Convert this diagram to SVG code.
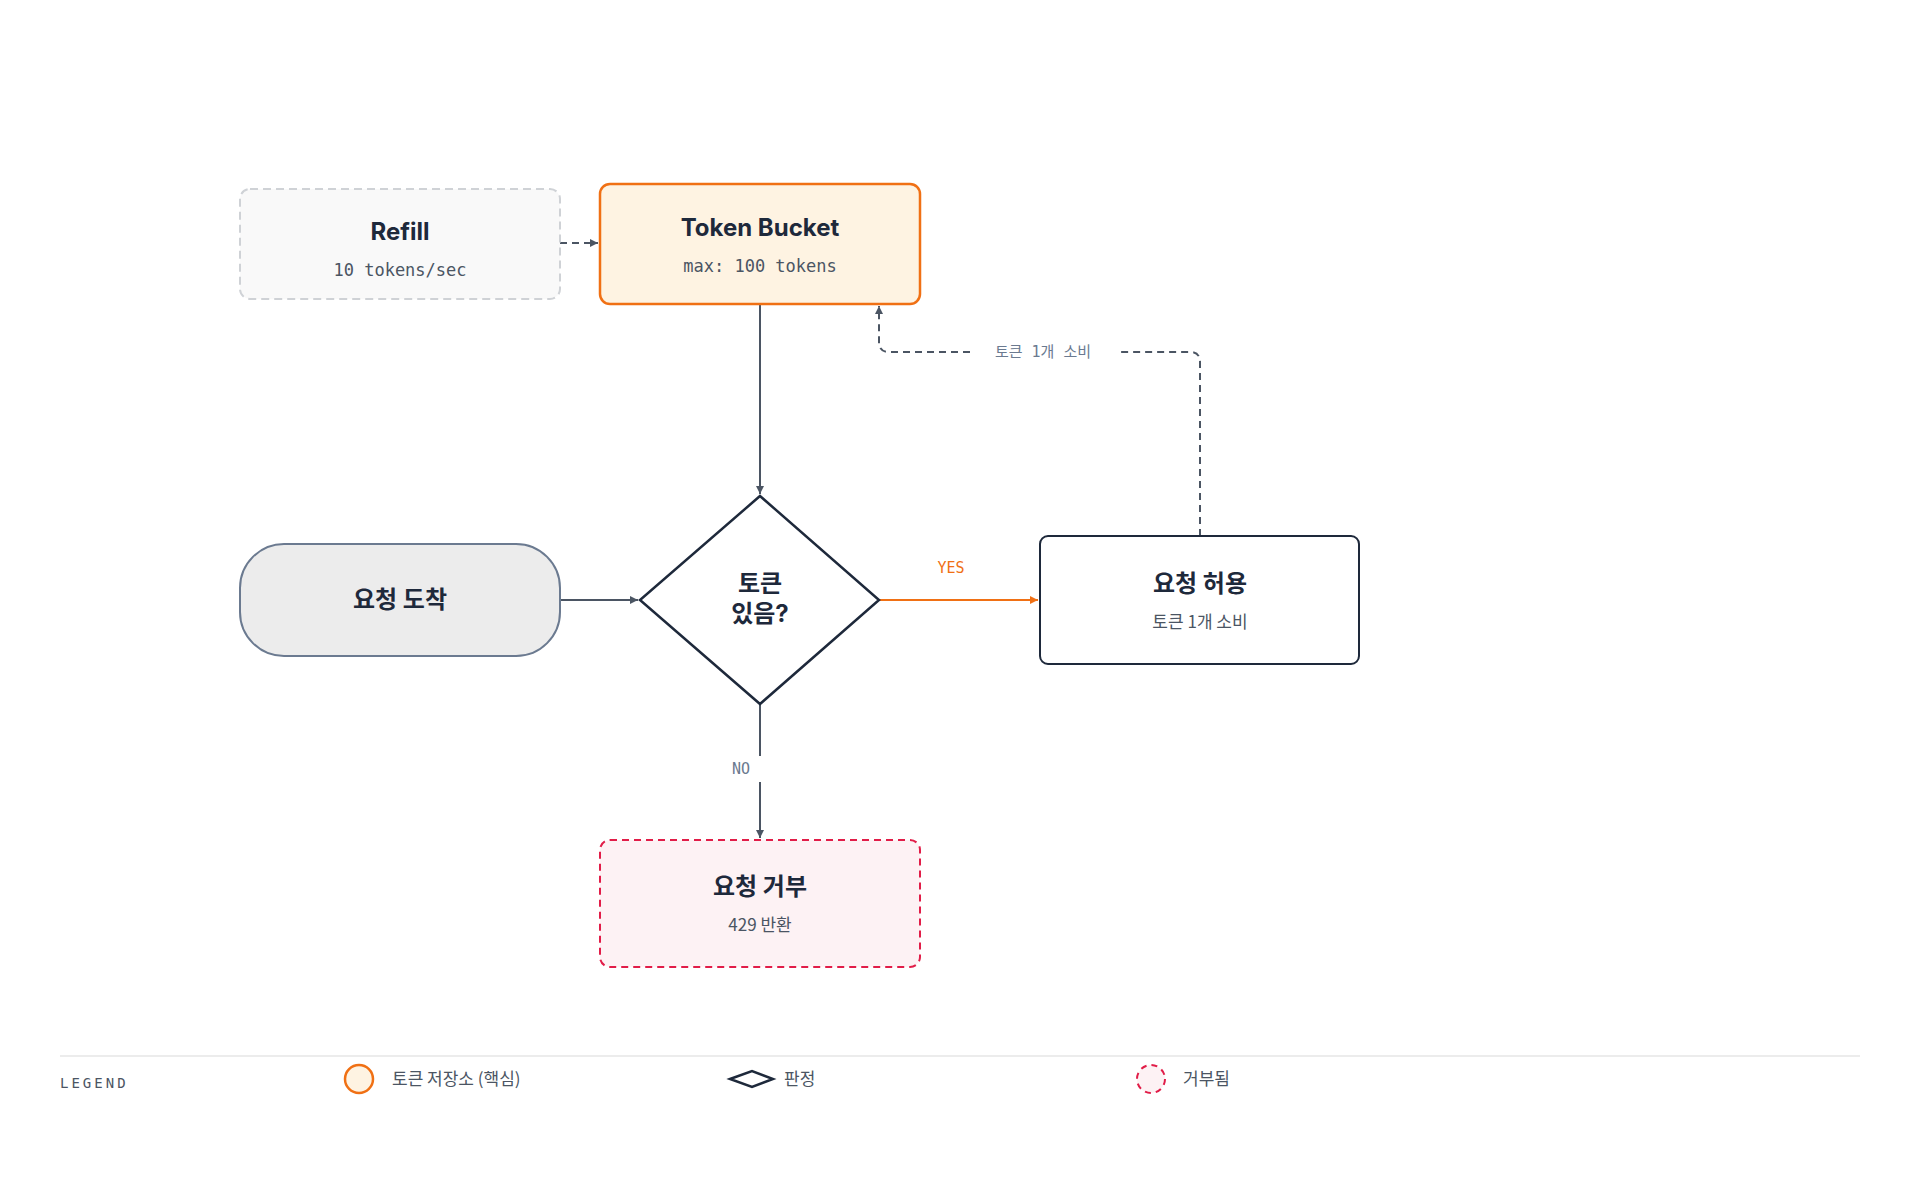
<svg xmlns="http://www.w3.org/2000/svg" width="1920" height="1200" viewBox="0 0 1920 1200">
<defs>
<marker id="ah" viewBox="0 0 10 10" refX="10" refY="5" markerWidth="8" markerHeight="8" orient="auto-start-reverse" markerUnits="userSpaceOnUse"><path d="M0,0L10,5L0,10z" fill="#4b5563"/></marker>
<marker id="ao" viewBox="0 0 10 10" refX="10" refY="5" markerWidth="8" markerHeight="8" orient="auto" markerUnits="userSpaceOnUse"><path d="M0,0L10,5L0,10z" fill="#f07014"/></marker>
<style>
.t{font-family:Inter,"Noto Sans CJK KR",sans-serif;font-weight:700;font-size:24px;fill:#1e293b;text-anchor:middle}
.s{font-family:"DejaVu Sans Mono","Noto Sans CJK KR",monospace;font-size:17px;fill:#4b5563;text-anchor:middle}
.k{font-family:"Noto Sans CJK KR",sans-serif;font-size:17px;fill:#4b5563;text-anchor:middle}
.l{font-family:"DejaVu Sans Mono","Noto Sans CJK KR",monospace;font-size:15px;fill:#6b7a90;text-anchor:middle}
.g{font-family:"Noto Sans CJK KR",sans-serif;font-size:17px;fill:#4b5563}
</style>
</defs>
<rect width="1920" height="1200" fill="#fff"/>
<g id="connectors" fill="none" stroke="#4b5563" stroke-width="2">
<path d="M560,243H598" stroke-dasharray="7,5" marker-end="url(#ah)"/>
<path d="M760,304V494" marker-end="url(#ah)"/>
<path d="M560,600H638" marker-end="url(#ah)"/>
<path d="M879,600H1038" stroke="#f07014" marker-end="url(#ao)"/>
<path d="M760,704V756M760,782V838" marker-end="url(#ah)"/>
<path d="M1200,536V362Q1200,352 1190,352H1120M970,352H889Q879,352 879,342V306" stroke-dasharray="7,5" marker-end="url(#ah)"/>
</g>
<text class="l" x="1043" y="357">토큰 1개 소비</text>
<text class="l" x="951" y="573" fill="#f07014" style="fill:#f07014">YES</text>
<text class="l" x="741" y="774">NO</text>
<g id="refill"><rect x="240" y="189" width="320" height="110" rx="10" fill="#f9f9f9" stroke="#cfd2d6" stroke-width="2" stroke-dasharray="8,5"/><text class="t" x="400" y="240">Refill</text><text class="s" x="400" y="276">10 tokens/sec</text></g>
<g id="bucket"><rect x="600" y="184" width="320" height="120" rx="10" fill="#fef3e2" stroke="#f07014" stroke-width="2.5"/><text class="t" x="760" y="236">Token Bucket</text><text class="s" x="760" y="272">max: 100 tokens</text></g>
<g id="arrive"><rect x="240" y="544" width="320" height="112" rx="44" fill="#ececec" stroke="#6b7a90" stroke-width="2"/><text class="t" x="400" y="608">요청 도착</text></g>
<g id="decision"><path d="M760,496L879,600L760,704L640,600z" fill="#fff" stroke="#1e293b" stroke-width="2.5"/><text class="t" x="760" y="592">토큰</text><text class="t" x="760" y="622">있음?</text></g>
<g id="allow"><rect x="1040" y="536" width="319" height="128" rx="8" fill="#fff" stroke="#1e293b" stroke-width="2"/><text class="t" x="1200" y="592">요청 허용</text><text class="k" x="1200" y="628">토큰 1개 소비</text></g>
<g id="reject"><rect x="600" y="840" width="320" height="127" rx="10" fill="#fdf2f4" stroke="#e11d48" stroke-width="2" stroke-dasharray="7,5"/><text class="t" x="760" y="895">요청 거부</text><text class="k" x="760" y="931">429 반환</text></g>
<g id="legend">
<path d="M60,1056H1860" stroke="#ececec" stroke-width="2"/>
<text x="60" y="1088" style="font-family:'DejaVu Sans Mono',monospace;font-size:14px;fill:#4b5563;letter-spacing:3px">LEGEND</text>
<circle cx="359" cy="1079" r="14" fill="#fef3e2" stroke="#f07014" stroke-width="2.5"/><text class="g" x="392" y="1085">토큰 저장소 (핵심)</text>
<path d="M730,1079L752,1071L773,1079L752,1087z" fill="#fff" stroke="#1e293b" stroke-width="2.5"/><text class="g" x="784" y="1085">판정</text>
<circle cx="1151" cy="1079" r="14" fill="#fdf2f4" stroke="#e11d48" stroke-width="2" stroke-dasharray="6,5"/><text class="g" x="1183" y="1085">거부됨</text>
</g>
</svg>
